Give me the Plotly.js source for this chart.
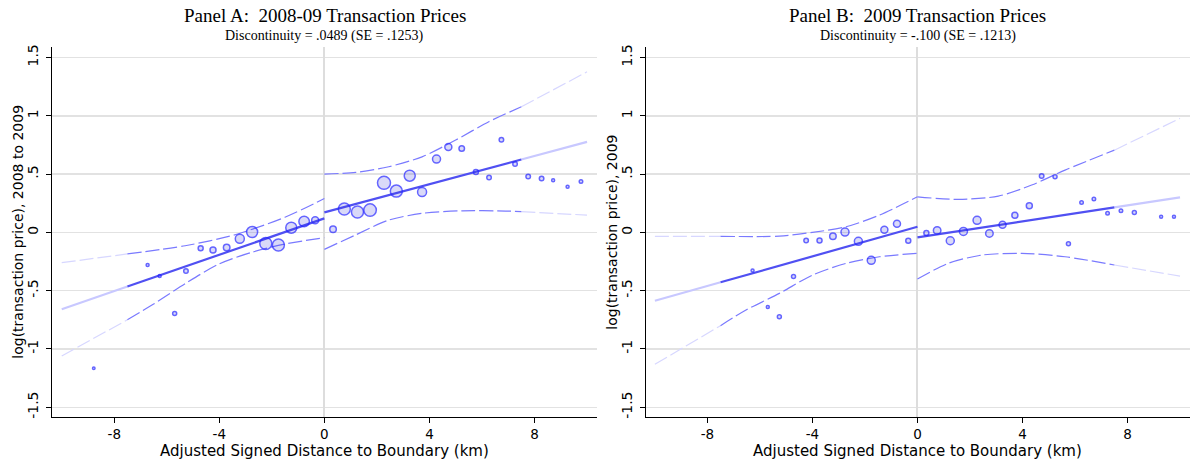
<!DOCTYPE html>
<html><head><meta charset="utf-8">
<script src="https://cdn.plot.ly/plotly-3.0.1.min.js"></script>
<style>html,body{margin:0;padding:0;background:#fff}#chart{width:1190px;height:463px}</style>
</head><body><div id="chart"></div>
<script>
// ---------- Panel A: 2008-09 transaction prices (binned means) ----------
const binsA_x = [-8.78,-6.73,-6.27,-5.70,-5.27,-4.71,-4.24,-3.72,-3.22,-2.75,-2.23,-1.75,-1.26,-0.77,-0.35,
                 0.33,0.76,1.26,1.74,2.27,2.74,3.25,3.72,4.27,4.72,5.23,5.77,6.27,6.74,7.26,7.76,8.27,8.71,9.26,9.77];
const binsA_y = [-1.166,-0.28,-0.375,-0.695,-0.332,-0.137,-0.152,-0.129,-0.055,0.003,-0.095,-0.109,0.04,0.094,0.103,
                 0.026,0.20,0.174,0.191,0.425,0.354,0.486,0.346,0.629,0.732,0.72,0.517,0.471,0.794,0.586,0.48,0.463,0.446,0.391,0.437];
const binsA_n = [2.5,3,3,4,4.5,5,6,6.5,9,11,12,12,11,10.5,7,
                 6.5,12,12,12.5,13,12,11,9,8,7,5.5,5,4.5,4.5,4.5,4.5,4.5,3,3,3.5];
// fitted lines (left / right of boundary)
const fitA_L_x = [-10,-7.5,0],  fitA_L_y = [-0.66,-0.465,0.12];
const fitA_R_x = [0,7.5,10],    fitA_R_y = [0.172,0.625,0.776];
// confidence bands
const ciA_LU_x = [-10,-7.5,-5.3,-3.4,-1.5,0],            ciA_LU_y = [-0.26,-0.185,-0.115,-0.02,0.13,0.29];
const ciA_LL_x = [-10,-7.5,-6.5,-5.3,-4.0,-2.75,-1.5,0], ciA_LL_y = [-1.06,-0.75,-0.615,-0.44,-0.27,-0.17,-0.10,-0.046];
const ciA_RU_x = [0,1.2,2.45,3.72,5.0,6.26,7.5,10],      ciA_RU_y = [0.50,0.515,0.563,0.648,0.792,0.949,1.077,1.377];
const ciA_RL_x = [0,1.18,2.45,3.72,5.25,6.9,7.5,10],     ciA_RL_y = [-0.146,-0.023,0.105,0.163,0.185,0.183,0.178,0.148];

// ---------- Panel B: 2009 transaction prices ----------
const binsB_x = [-6.28,-5.70,-5.26,-4.72,-4.24,-3.73,-3.22,-2.76,-2.25,-1.76,-1.26,-0.78,-0.35,
                 0.34,0.75,1.25,1.75,2.27,2.74,3.24,3.71,4.26,4.73,5.24,5.75,6.25,6.72,7.24,7.75,8.26,9.28,9.77];
const binsB_y = [-0.326,-0.641,-0.724,-0.378,-0.069,-0.069,-0.034,0.003,-0.077,-0.24,0.022,0.074,-0.072,
                 -0.006,0.017,-0.072,0.008,0.103,-0.009,0.066,0.146,0.228,0.483,0.477,-0.097,0.257,0.286,0.165,0.185,0.171,0.134,0.134];
const binsB_n = [3,3,4,4,4.5,5,6.5,8,8,8,7,7,5,
                 5,7.5,8,8,8,7.5,7,6,6,4.5,4,4,3.5,3.5,3.5,3.5,4,3,3];
const fitB_L_x = [-10,-7.5,0],  fitB_L_y = [-0.587,-0.428,0.048];
const fitB_R_x = [0,7.5,10],    fitB_R_y = [-0.043,0.214,0.30];
const ciB_LU_x = [-10,-7.5,-5.26,-4.0,-2.72,-1.45,0],        ciB_LU_y = [-0.034,-0.034,-0.032,0.0,0.048,0.148,0.305];
const ciB_LL_x = [-10,-7.5,-6.53,-5.26,-3.99,-2.72,-1.45,0], ciB_LL_y = [-1.132,-0.80,-0.666,-0.523,-0.366,-0.266,-0.209,-0.18];
const ciB_RU_x = [0,1.56,3.08,4.35,5.62,7.5,10],             ciB_RU_y = [0.305,0.283,0.311,0.406,0.534,0.705,0.978];
const ciB_RL_x = [0,1.17,2.44,3.97,5.62,7.5,10],             ciB_RL_y = [-0.40,-0.266,-0.195,-0.18,-0.209,-0.28,-0.375];

// ---------- text ----------
const titles = ["Panel A:  2008-09 Transaction Prices", "Panel B:  2009 Transaction Prices"];
const subtitles = ["Discontinuity = .0489 (SE = .1253)", "Discontinuity = -.100 (SE = .1213)"];
const yTitles = ["log(transaction price), 2008 to 2009", "log(transaction price), 2009"];
const xTitle = "Adjusted Signed Distance to Boundary (km)";
const yTickVals = [-1.5,-1,-0.5,0,0.5,1,1.5];
const yTickText = ["-1.5","-1","-.5","0",".5","1","1.5"];
const xTickVals = [-8,-4,0,4,8];
const xTickText = ["-8","-4","0","4","8"];

// ---------- styling ----------
const FIT_DARK = 'rgb(80,80,242)', FIT_FADE = 'rgb(200,200,255)';
const CI_DARK = 'rgb(122,122,255)', CI_FADE = 'rgb(215,215,255)';
const CUT = 7.5;

function split(xs, ys, side) {
  const dark = {x: [], y: []}, fade = {x: [], y: []};
  xs.forEach((x, i) => {
    const outer = side === 'L' ? x <= -CUT : x >= CUT;
    const inner = side === 'L' ? x >= -CUT : x <= CUT;
    if (outer) { fade.x.push(x); fade.y.push(ys[i]); }
    if (inner) { dark.x.push(x); dark.y.push(ys[i]); }
  });
  return {dark, fade};
}

const traces = [];
function curve(xs, ys, side, isFit, xa, ya) {
  const s = split(xs, ys, side);
  const w = isFit ? 2.2 : 1.2;
  const dash = isFit ? 'solid' : '14px,4px';
  [[s.fade, isFit ? FIT_FADE : CI_FADE], [s.dark, isFit ? FIT_DARK : CI_DARK]].forEach(([seg, col]) => {
    if (seg.x.length < 2) return;
    traces.push({x: seg.x, y: seg.y, xaxis: xa, yaxis: ya, mode: 'lines', hoverinfo: 'skip', showlegend: false,
      line: {color: col, width: w, dash: dash, shape: isFit ? 'linear' : 'spline', smoothing: 0.8}});
  });
}

// Panel A
curve(ciA_LU_x, ciA_LU_y, 'L', false, 'x', 'y');
curve(ciA_LL_x, ciA_LL_y, 'L', false, 'x', 'y');
curve(ciA_RU_x, ciA_RU_y, 'R', false, 'x', 'y');
curve(ciA_RL_x, ciA_RL_y, 'R', false, 'x', 'y');
curve(fitA_L_x, fitA_L_y, 'L', true, 'x', 'y');
curve(fitA_R_x, fitA_R_y, 'R', true, 'x', 'y');
// Panel B
curve(ciB_LU_x, ciB_LU_y, 'L', false, 'x2', 'y2');
curve(ciB_LL_x, ciB_LL_y, 'L', false, 'x2', 'y2');
curve(ciB_RU_x, ciB_RU_y, 'R', false, 'x2', 'y2');
curve(ciB_RL_x, ciB_RL_y, 'R', false, 'x2', 'y2');
curve(fitB_L_x, fitB_L_y, 'L', true, 'x2', 'y2');
curve(fitB_R_x, fitB_R_y, 'R', true, 'x2', 'y2');

const markerStyle = (sizes) => ({size: sizes, color: 'rgba(60,60,220,0.27)', line: {color: 'rgb(35,35,255)', width: 1.5}});
traces.push({x: binsA_x, y: binsA_y, xaxis: 'x', yaxis: 'y', mode: 'markers', showlegend: false, marker: markerStyle(binsA_n)});
traces.push({x: binsB_x, y: binsB_y, xaxis: 'x2', yaxis: 'y2', mode: 'markers', showlegend: false, marker: markerStyle(binsB_n)});

const FONT = 'DejaVu Sans, Verdana, sans-serif';
const SERIF = 'Liberation Serif, Times New Roman, serif';

function xAxis(domain, range, anchor) {
  return {domain, range, anchor, tickmode: 'array', tickvals: xTickVals, ticktext: xTickText,
    showgrid: false, zeroline: true, zerolinecolor: '#dddddd', zerolinewidth: 2,
    showline: true, linecolor: '#000', linewidth: 1, ticks: 'outside', ticklen: 5, tickcolor: '#000',
    tickfont: {family: FONT, size: 13.5, color: '#000'}, fixedrange: true};
}
function yAxis(anchor) {
  return {domain: [0.1, 0.899], range: [-1.581, 1.592], anchor, tickmode: 'array', tickvals: yTickVals, ticktext: yTickText,
    tickangle: -90, showgrid: true, gridcolor: '#e2e2e2', gridwidth: 1.5, zeroline: false,
    showline: true, linecolor: '#000', linewidth: 1, ticks: 'outside', ticklen: 5, tickcolor: '#000',
    tickfont: {family: FONT, size: 14, color: '#000'}, ticklabelstandoff: 2, fixedrange: true};
}

const ann = [];
const centers = [0.2727, 0.7713];
const yTitleX = [18/1190, 612/1190];
for (let i = 0; i < 2; i++) {
  ann.push({text: titles[i], xref: 'paper', yref: 'paper', x: centers[i], y: (463-16)/463, xanchor: 'center', yanchor: 'middle',
    showarrow: false, font: {family: SERIF, size: 19, color: '#000'}});
  ann.push({text: subtitles[i], xref: 'paper', yref: 'paper', x: centers[i], y: (463-36)/463, xanchor: 'center', yanchor: 'middle',
    showarrow: false, font: {family: SERIF, size: 14, color: '#000'}});
  ann.push({text: xTitle, xref: 'paper', yref: 'paper', x: centers[i], y: (463-451)/463, xanchor: 'center', yanchor: 'middle',
    showarrow: false, font: {family: FONT, size: 15, color: '#000'}});
  ann.push({text: yTitles[i], xref: 'paper', yref: 'paper', x: yTitleX[i], y: 0.4996, xanchor: 'center', yanchor: 'middle',
    textangle: -90, showarrow: false, font: {family: FONT, size: 14, color: '#000'}});
}

const layout = {
  width: 1190, height: 463, margin: {l: 0, r: 0, t: 0, b: 0},
  paper_bgcolor: '#fff', plot_bgcolor: '#fff', showlegend: false,
  xaxis: xAxis([52/1190, 597/1190], [-10.37, 10.38], 'y'),
  yaxis: yAxis('x'),
  xaxis2: xAxis([645.7/1190, 1], [-10.35, 10.38], 'y2'),
  yaxis2: yAxis('x2'),
  annotations: ann
};
Plotly.newPlot('chart', traces, layout, {displayModeBar: false, staticPlot: true});
</script></body></html>
